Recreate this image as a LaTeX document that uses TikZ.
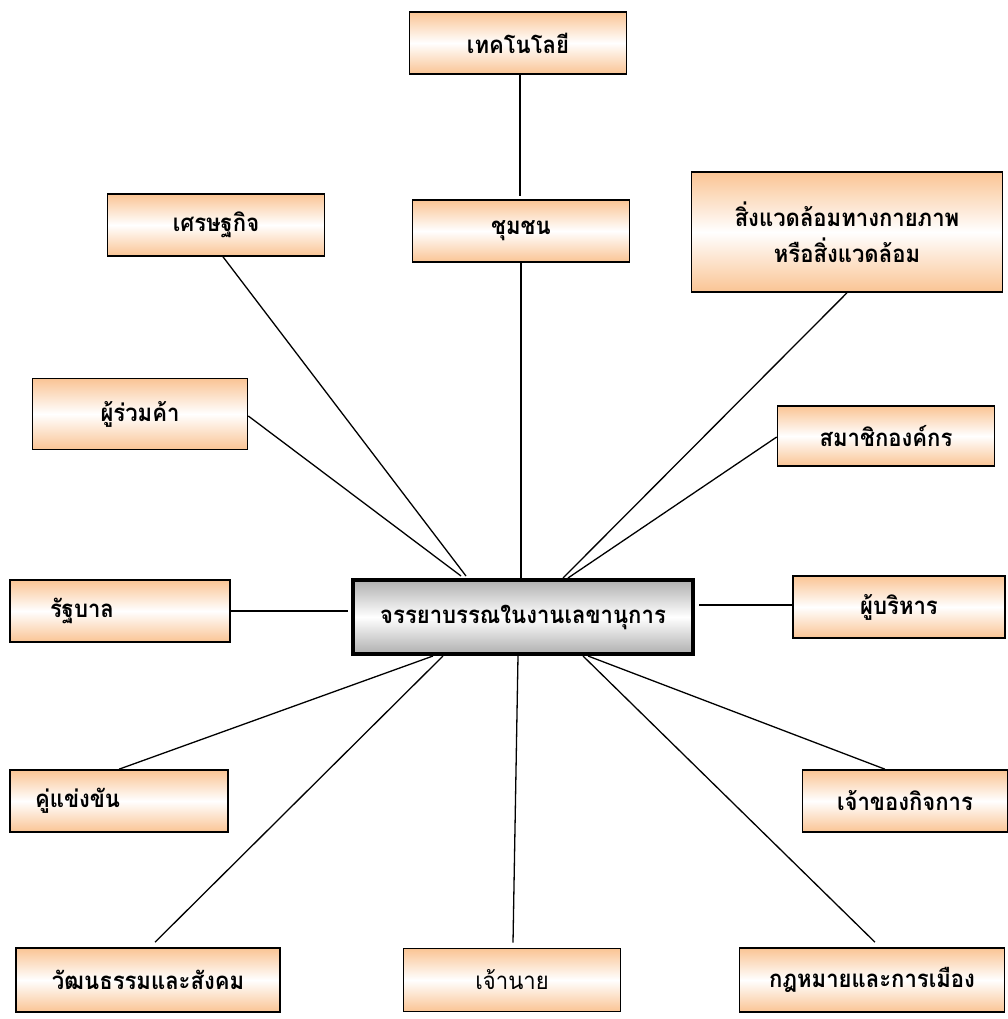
\documentclass[tikz,border=0pt]{standalone}
\usepackage{fontspec}
\setmainfont[Script=Thai,FakeStretch=0.92]{Loma}
\usepackage{xcolor}
\usepackage{tikz}

\definecolor{peach}{RGB}{250,196,148}
\definecolor{hubgray}{RGB}{175,175,175}

\begin{document}
\begin{tikzpicture}[x=1pt,y=-1pt,
    topic/.style={draw=black, line width=1.6pt, top color=peach, bottom color=peach,
      middle color=white, minimum width=217pt, minimum height=62pt, inner sep=0pt,
      font=\fontsize{24}{32}\selectfont\bfseries, align=center},
    hubbox/.style={draw=black, line width=4pt, top color=hubgray, bottom color=hubgray,
      middle color=white, minimum width=340pt, minimum height=74pt, inner sep=0pt,
      font=\fontsize{24}{32}\selectfont\bfseries},
    link/.style={line width=1.3pt}]
        \useasboundingbox (0,0) rectangle (1008,1019);
        \node[hubbox] (hub) at (523,617) {จรรยาบรรณในงานเลขานุการ};
        \node[topic] (tech) at (518,43) {เทคโนโลยี};
        \node[topic] (comm) at (521,231) {ชุมชน};
        \node[topic] (econ) at (216,225) {เศรษฐกิจ};
        \node[topic, minimum width=311pt, minimum height=120pt] (env) at (847,232)
            {สิ่งแวดล้อมทางกายภาพ\\[4pt]หรือสิ่งแวดล้อม};
        \node[topic, minimum width=215pt, minimum height=71pt] (partner) at (140,414) {ผู้ร่วมค้า};
        \node[topic, minimum height=60pt] (member) at (886,436) {สมาชิกองค์กร};
        \node[topic, minimum width=220pt, text width=140pt, align=left] (gov) at (120,611) {รัฐบาล};
        \node[topic, minimum width=212pt] (exec) at (899,607) {ผู้บริหาร};
        \node[topic, minimum width=218pt, text width=168pt, align=left] (rival) at (119,801) {คู่แข่งขัน};
        \node[topic, minimum width=205pt] (owner) at (905,801) {เจ้าของกิจการ};
        \node[topic, minimum width=264pt, minimum height=64pt] (culture) at (148,980) {วัฒนธรรมและสังคม};
        \node[topic, minimum height=63pt, font=\fontsize{24}{32}\selectfont] (boss) at (512,980) {เจ้านาย};
        \node[topic, minimum width=265pt, minimum height=64pt] (law) at (872,980) {กฎหมายและการเมือง};

        % connectors to the centre box
        \draw[link] ([xshift=2pt]tech.south) -- ([xshift=-1pt,yshift=3pt]comm.north);
        \draw[link] (comm.south) -- (comm.south |- hub.north);
        \draw[link] ([xshift=7pt]econ.south) -- ([xshift=115pt,yshift=2pt]hub.north west);
        \draw[link] (env.south) -- ([xshift=212pt]hub.north west);
        \draw[link] ([yshift=-2pt]partner.east) -- ([xshift=110pt,yshift=2pt]hub.north west);
        \draw[link] ([yshift=-1pt]member.west) -- ([xshift=217pt]hub.north west);
        \draw[link] (gov.east) -- ([xshift=-3pt]gov.east -| hub.west);
        \draw[link] ([yshift=2pt]exec.west) -- ([xshift=4pt,yshift=2pt]exec.west -| hub.east);
        \draw[link] (rival.north) -- ([xshift=82pt]hub.south west);
        \draw[link] ([xshift=7pt,yshift=5pt]culture.north) -- ([xshift=92pt]hub.south west);
        \draw[link] ([xshift=1pt,yshift=5pt]boss.north) -- ([xshift=167pt]hub.south west);
        \draw[link] ([xshift=3pt,yshift=5pt]law.north) -- ([xshift=232pt]hub.south west);
        \draw[link] ([xshift=-20pt]owner.north) -- ([xshift=237pt]hub.south west);
    \end{tikzpicture}
\end{document}
